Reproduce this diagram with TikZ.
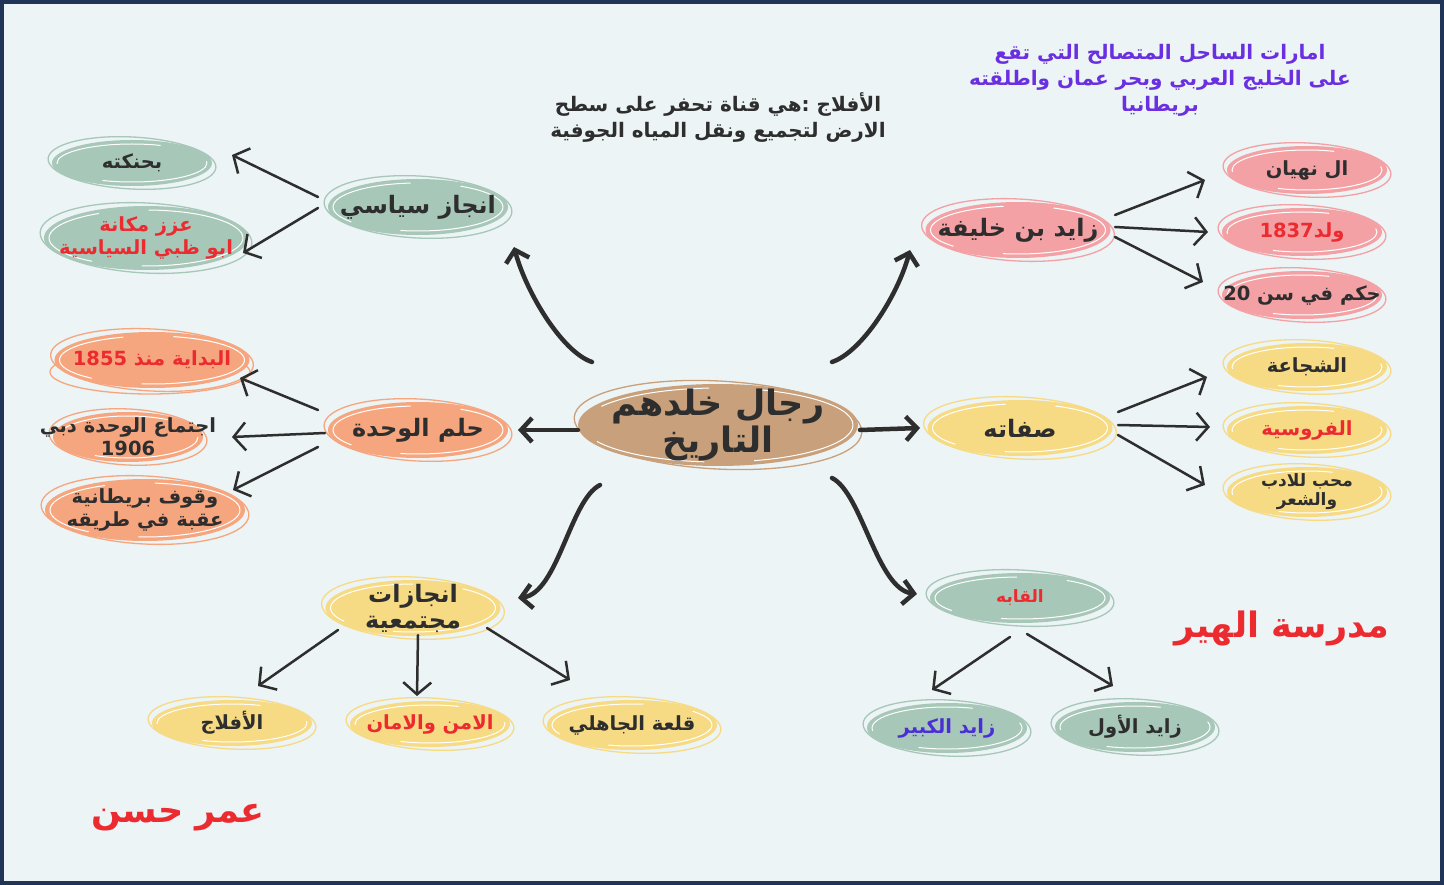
\documentclass[tikz,border=0pt]{standalone}
\usepackage{fontspec}
\usetikzlibrary{arrows.meta}
\TeXXeTstate=1
\newfontfamily\arfont[Script=Arabic]{DejaVu Sans}
\newcommand\arl[1]{\beginR #1\endR}
\newcommand\ltrn[1]{\beginL #1\endL{}}
\definecolor{bgc}{HTML}{ECF4F6}
\definecolor{navy}{HTML}{1F3457}
\definecolor{grn}{HTML}{A7C7B8}
\definecolor{pch}{HTML}{F6A67E}
\definecolor{pnk}{HTML}{F3A1A4}
\definecolor{ylw}{HTML}{F6DA84}
\definecolor{tanc}{HTML}{C8A07C}
\definecolor{redc}{HTML}{EC2B30}
\definecolor{ink}{HTML}{2E2E2E}
\definecolor{prp}{HTML}{6A2FE0}
\definecolor{blu}{HTML}{4A2FD6}
\newcommand\szA{\arfont\bfseries\fontsize{35}{37}\selectfont}
\newcommand\szB{\arfont\bfseries\fontsize{24}{26}\selectfont}
\newcommand\szC{\arfont\bfseries\fontsize{19.5}{23}\selectfont}
\newcommand\szD{\arfont\bfseries\fontsize{17}{19}\selectfont}
\newcommand\szT{\arfont\bfseries\fontsize{20}{26}\selectfont}
\tikzset{
 lbl/.style={inner sep=0pt, align=center, text=ink},
 sub/.style={draw=ink, line width=2.5pt, line cap=round, -{Straight Barb[length=12pt, width=28pt, line width=2.5pt]}},
 mainarr/.style={draw=ink, line width=4.5pt, line cap=round, -{Straight Barb[length=11pt, width=24pt, line width=4.5pt]}},
}
\newcommand\bubble[8]{%
 \fill[#6] (#2,#3) ellipse [x radius=#4/2, y radius=#5/2];
 \draw[#6, line width=1.3pt, rotate around={-3:(#2,#3)}] (#2,#3) ellipse [x radius=#4/2+4, y radius=#5/2+3];
 \draw[white, line width=1pt, dash pattern=on 110pt off 50pt] (#2,#3) ellipse [x radius=#4/2-5, y radius=#5/2-4];
 \node[lbl, #7] (#1) at (#2,#3) {#8};
}
\begin{document}
\begin{tikzpicture}[x=1pt,y=-1pt]
\fill[bgc] (0,0) rectangle (1444,885);
\useasboundingbox (0,0) rectangle (1444,885);
\draw[navy, line width=4pt] (2,2) rectangle (1442,883);

% texts
\node[lbl, font=\szT] (note) at (718,118) {\arl{الأفلاج :هي قناة تحفر على سطح}\\\arl{الارض لتجميع ونقل المياه الجوفية}};
\node[lbl, font=\szT, text=prp] (emirates) at (1160,80) {\arl{امارات الساحل المتصالح التي تقع}\\\arl{على الخليج العربي وبحر عمان واطلقته}\\\arl{بريطانيا}};
\node[lbl, font=\szA, text=redc] (school) at (1282,628) {\arl{مدرسة الهير}};
\node[lbl, font=\szA, text=redc] (author) at (178,818) {\arl{عمر حسن}};

% centre
\bubble{ctr}{718}{425}{280}{82}{tanc}{font=\szA}{\arl{رجال خلدهم}\\\arl{التاريخ}}

% left top
\bubble{siyasi}{418}{207}{180}{56}{grn}{font=\szB}{\arl{انجاز سياسي}}
\bubble{hinka}{132}{163}{160}{46}{grn}{font=\szC}{\arl{بحنكته}}
\bubble{azz}{146}{238}{204}{64}{grn}{font=\szC, text=redc}{\arl{عزز مكانة}\\\arl{ابو ظبي السياسية}}

% left middle
\draw[pch, line width=1.3pt] (150,372) ellipse [x radius=100, y radius=22];
\bubble{hulm}{418}{430}{180}{56}{pch}{font=\szB}{\arl{حلم الوحدة}}
\bubble{bidaya}{152}{360}{195}{56}{pch}{font=\szC, text=redc}{\arl{البداية منذ \ltrn{1855}}}
\bubble{ijtima}{128}{437}{150}{50}{pch}{font=\szC}{\arl{اجتماع الوحدة دبي}\\\ltrn{1906}}
\bubble{wuquf}{145}{510}{200}{62}{pch}{font=\szC}{\arl{وقوف بريطانية}\\\arl{عقبة في طريقه}}

% bottom left
\bubble{injazat}{413}{608}{175}{56}{ylw}{font=\szB}{\arl{انجازات}\\\arl{مجتمعية}}
\bubble{aflaj}{232}{723}{160}{46}{ylw}{font=\szC}{\arl{الأفلاج}}
\bubble{amn}{430}{724}{160}{46}{ylw}{font=\szC, text=redc}{\arl{الامن والامان}}
\bubble{qala}{632}{725}{170}{50}{ylw}{font=\szC}{\arl{قلعة الجاهلي}}

% right top
\bubble{zayed}{1018}{230}{185}{56}{pnk}{font=\szB}{\arl{زايد بن خليفة}}
\bubble{nahyan}{1307}{170}{160}{48}{pnk}{font=\szC}{\arl{ال نهيان}}
\bubble{wulid}{1302}{232}{160}{48}{pnk}{font=\szC, text=redc}{\arl{ولد\ltrn{1837}}}
\bubble{hukm}{1302}{295}{160}{48}{pnk}{font=\szC}{\arl{حكم في سن \ltrn{20}}}

% right middle
\bubble{sifat}{1020}{428}{185}{56}{ylw}{font=\szB}{\arl{صفاته}}
\bubble{shaja}{1307}{367}{160}{48}{ylw}{font=\szC}{\arl{الشجاعة}}
\bubble{furus}{1307}{430}{160}{48}{ylw}{font=\szC, text=redc}{\arl{الفروسية}}
\bubble{muhib}{1307}{492}{160}{50}{ylw}{font=\szD}{\arl{محب للادب}\\\arl{والشعر}}

% bottom right
\bubble{alqab}{1020}{598}{180}{50}{grn}{font=\szD, text=redc}{\arl{القابه}}
\bubble{kabir}{947}{728}{160}{50}{grn}{font=\szC, text=blu}{\arl{زايد الكبير}}
\bubble{awwal}{1135}{727}{160}{50}{grn}{font=\szC}{\arl{زايد الأول}}

% main arrows
\draw[mainarr] ([shift={(-126,-63)}]ctr.center) .. controls +(-30,-10) and +(12,45) .. ([shift={(96,40)}]siyasi.center);
\draw[mainarr] ([shift={(114,-63)}]ctr.center) .. controls +(30,-10) and +(-12,45) .. ([shift={(-108,20)}]zayed.center);
\draw[mainarr] ([shift={(-140,5)}]ctr.center) -- ([shift={(100,0)}]hulm.center);
\draw[mainarr] ([shift={(142,5)}]ctr.center) -- ([shift={(-100,0)}]sifat.center);
\draw[mainarr] ([shift={(-118,60)}]ctr.center) .. controls +(-30,15) and +(40,-5) .. ([shift={(105,-10)}]injazat.center);
\draw[mainarr] ([shift={(114,53)}]ctr.center) .. controls +(30,15) and +(-40,-5) .. ([shift={(-103,-4)}]alqab.center);

% sub arrows
\draw[sub] ([shift={(-100,-10)}]siyasi.center) -- ([shift={(100,-8)}]hinka.center);
\draw[sub] ([shift={(-100,1)}]siyasi.center) -- ([shift={(97,15)}]azz.center);
\draw[sub] ([shift={(-100,-20)}]hulm.center) -- ([shift={(88,18)}]bidaya.center);
\draw[sub] ([shift={(-93,3)}]hulm.center) -- ([shift={(104,0)}]ijtima.center);
\draw[sub] ([shift={(-100,17)}]hulm.center) -- ([shift={(88,-20)}]wuquf.center);
\draw[sub] ([shift={(-75,22)}]injazat.center) -- ([shift={(26,-37)}]aflaj.center);
\draw[sub] ([shift={(5,27)}]injazat.center) -- ([shift={(-13,-28)}]amn.center);
\draw[sub] ([shift={(74,20)}]injazat.center) -- ([shift={(-62,-45)}]qala.center);
\draw[sub] ([shift={(97,-15)}]zayed.center) -- ([shift={(-102,10)}]nahyan.center);
\draw[sub] ([shift={(97,-3)}]zayed.center) -- ([shift={(-94,0)}]wulid.center);
\draw[sub] ([shift={(97,7)}]zayed.center) -- ([shift={(-99,-13)}]hukm.center);
\draw[sub] ([shift={(98,-16)}]sifat.center) -- ([shift={(-100,10)}]shaja.center);
\draw[sub] ([shift={(98,-3)}]sifat.center) -- ([shift={(-97,-3)}]furus.center);
\draw[sub] ([shift={(98,7)}]sifat.center) -- ([shift={(-102,-7)}]muhib.center);
\draw[sub] ([shift={(-10,39)}]alqab.center) -- ([shift={(-15,-38)}]kabir.center);
\draw[sub] ([shift={(7,36)}]alqab.center) -- ([shift={(-22,-41)}]awwal.center);
\end{tikzpicture}
\end{document}
